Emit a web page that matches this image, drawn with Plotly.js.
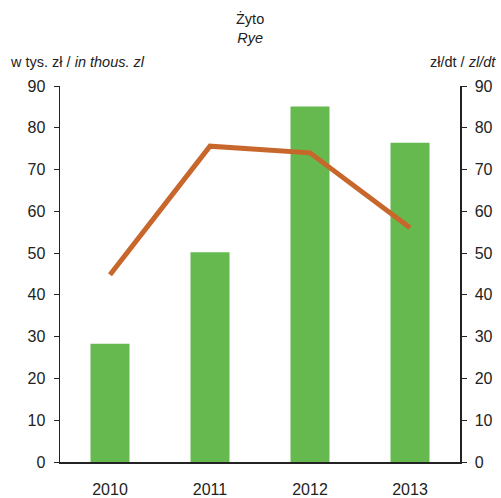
<!DOCTYPE html>
<html>
<head>
<meta charset="utf-8">
<script src="https://cdn.plot.ly/plotly-3.0.1.min.js"></script>
<style>html,body{margin:0;padding:0;background:#fff}#chart{width:501px;height:498px}</style>
</head>
<body>
<div id="chart"></div>
<script>
var years = ['2010', '2011', '2012', '2013'];
var valueThousZl = [28.3, 50.2, 85.1, 76.4];
var priceZlDt = [44.8, 75.6, 74.0, 56.1];
var tickVals = [0, 10, 20, 30, 40, 50, 60, 70, 80, 90];

var font = {family: 'Liberation Sans, Arial, sans-serif', size: 14.5, color: '#222'};
var tickFont = {family: 'Liberation Sans, Arial, sans-serif', size: 16, color: '#222'};

var data = [
  {type: 'bar', x: years, y: valueThousZl, marker: {color: '#66b94f'}, width: 0.39, yaxis: 'y', hoverinfo: 'y'},
  {type: 'scatter', mode: 'lines', x: years, y: priceZlDt, yaxis: 'y2',
   line: {color: '#c8672c', width: 5}, hoverinfo: 'y'}
];

var layout = {
  width: 501, height: 498,
  margin: {l: 60, r: 41, t: 86, b: 36},
  showlegend: false,
  paper_bgcolor: '#fff', plot_bgcolor: '#fff',
  font: font,
  xaxis: {type: 'category', showline: true, linecolor: '#222', linewidth: 1.5,
          ticks: '', showgrid: false, zeroline: false, tickfont: tickFont, range: [-0.5, 3.5],
          ticklabelstandoff: 12},
  yaxis: {range: [0, 90], tickvals: tickVals, showline: true, linecolor: '#222', linewidth: 1.5,
          ticks: 'outside', ticklen: 5, tickcolor: '#222', showgrid: false, zeroline: false,
          tickfont: tickFont, ticklabelstandoff: 5},
  yaxis2: {range: [0, 90], tickvals: tickVals, overlaying: 'y', side: 'right', showline: true,
           linecolor: '#222', linewidth: 1.5, ticks: 'outside', ticklen: 5, tickcolor: '#222',
           showgrid: false, zeroline: false, tickfont: tickFont, ticklabelstandoff: 5},
  annotations: [
    {text: 'Żyto<br><i>Rye</i>', xref: 'paper', yref: 'paper', x: 0.475, y: 1, yshift: 78,
     xanchor: 'center', yanchor: 'top', showarrow: false, font: font},
    {text: 'w tys. zł / <i>in thous. zl</i>', xref: 'paper', yref: 'paper', x: 0, xshift: -52, y: 1, yshift: 34,
     xanchor: 'left', yanchor: 'top', showarrow: false, font: font},
    {text: 'zł/dt / <i>zl/dt</i>', xref: 'paper', yref: 'paper', x: 1, xshift: 38, y: 1, yshift: 34,
     xanchor: 'right', yanchor: 'top', showarrow: false, font: font}
  ]
};

Plotly.newPlot('chart', data, layout, {displayModeBar: false, staticPlot: true});
</script>
</body>
</html>
